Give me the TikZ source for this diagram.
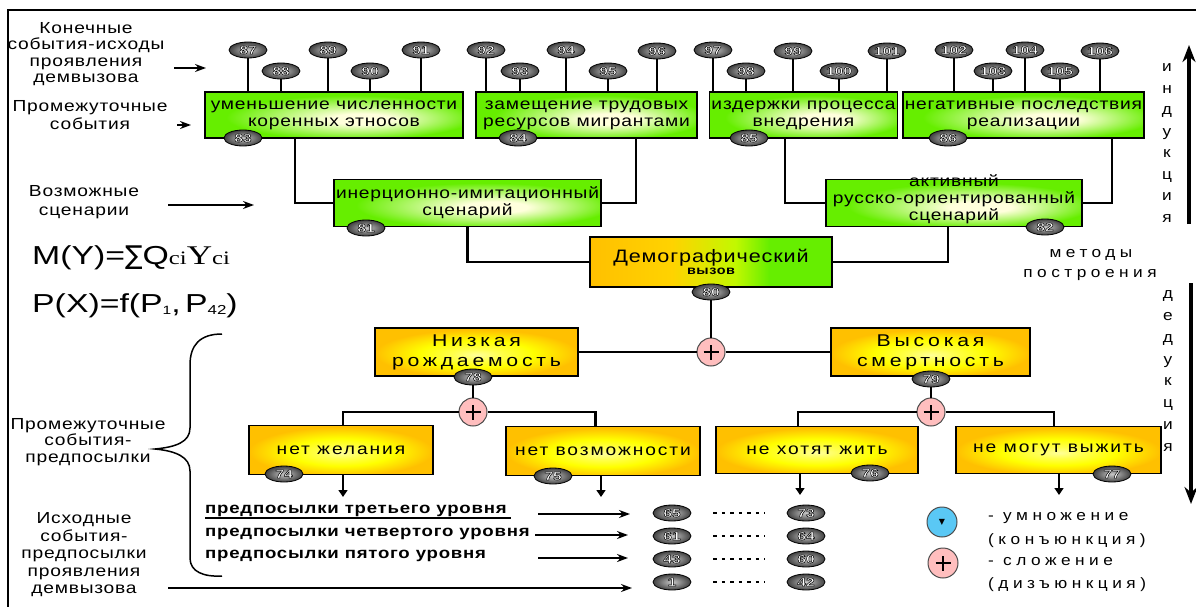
\documentclass[tikz,border=0pt]{standalone}
\usepackage{fontspec}
\setmainfont{Liberation Sans}[FakeStretch=1.2,LetterSpace=5]
\newfontfamily\spacedf{Liberation Sans}[FakeStretch=1.15,LetterSpace=30]
\newfontfamily\midf{Liberation Sans}[FakeStretch=1.2,LetterSpace=12]
\newfontfamily\widef{Liberation Sans}[FakeStretch=1.25,LetterSpace=22]
\newfontfamily\plainf{Liberation Sans}[FakeStretch=1.3]
\newfontfamily\seriff{Liberation Serif}[FakeStretch=1.3]
\newfontfamily\dejavuf{DejaVu Sans}
\usetikzlibrary{shapes.geometric,arrows.meta}
\definecolor{limeg}{RGB}{102,238,0}
\definecolor{goldc}{RGB}{255,192,0}
\definecolor{lighty}{RGB}{255,255,220}
\definecolor{pinkc}{RGB}{255,190,190}
\definecolor{bluec}{RGB}{90,200,245}
\pgfdeclareradialshading{greenbox}{\pgfpoint{6bp}{-5bp}}{color(0bp)=(lighty); color(6bp)=(lighty); color(15bp)=(limeg!50!lighty); color(24bp)=(limeg); color(50bp)=(limeg)}
\pgfdeclareradialshading{yellowbox}{\pgfpoint{0bp}{-3bp}}{color(0bp)=(white!60!yellow); color(6bp)=(white!30!yellow); color(14bp)=(yellow); color(25bp)=(goldc); color(50bp)=(goldc)}
\pgfdeclarehorizontalshading{demoshade}{100bp}{color(0bp)=(goldc); color(25bp)=(goldc); color(42bp)=(goldc!70!yellow); color(55bp)=(yellow!60!limeg); color(62bp)=(limeg); color(100bp)=(limeg)}
\newcommand{\outl}{\special{pdf:literal direct 2 Tr 0.5 w 0 G}}
\begin{document}
\begin{tikzpicture}[x=1pt,y=-1pt,
  gbox/.style={draw=black, line width=1.8pt, shade, shading=greenbox, minimum height=46, align=center, inner sep=2pt, font=\fontsize{16}{17}\selectfont},
  ybox/.style={draw=black, line width=1.8pt, shade, shading=yellowbox, minimum height=48, align=center, inner sep=2pt, font=\midf\fontsize{16}{20}\selectfont},
  badge/.style={ellipse, draw=black, line width=0.8pt, inner color=black!22, outer color=black!75, minimum width=38, minimum height=16, inner sep=0pt, text=white, font=\plainf\bfseries\fontsize{12}{12}\selectfont},
  conn/.style={line width=1.6pt},
  thk/.style={line width=2.6pt},
  thn/.style={line width=1.2pt},
  plusc/.style={circle, draw=black!70, line width=1pt, fill=pinkc, minimum size=28, inner sep=0pt,
    path picture={\draw[line width=2.6pt,black] ([xshift=-7.5pt]path picture bounding box.center) -- ([xshift=7.5pt]path picture bounding box.center) ([yshift=-7.5pt]path picture bounding box.center) -- ([yshift=7.5pt]path picture bounding box.center);}},
  arr/.style={line width=1.4pt, -{Stealth[length=11pt,width=8pt]}},
  darr/.style={line width=1.4pt, -{Triangle[length=7pt,width=9pt]}},
  bigarr/.style={line width=3.2pt, -{Stealth[length=17pt,width=13pt]}},
  lbl/.style={align=center, font=\fontsize{16}{16.5}\selectfont, inner sep=0pt},
  spl/.style={align=center, font=\spacedf\fontsize{15}{21.5}\selectfont, inner sep=0pt},
  rowt/.style={anchor=west, inner sep=0pt, font=\bfseries\fontsize{15.5}{15.5}\selectfont},
  dotl/.style={line width=1.5pt, dash pattern=on 3.5pt off 5pt, shorten <=22pt, shorten >=22pt}
]
\useasboundingbox (0,0) rectangle (1196,607);
\draw[line width=1.3pt] (8,607) -- (8,10) -- (1196,10);

% ---------- top boxes ----------
\node[gbox, minimum width=258] (box83) at (334,115) {уменьшение численности\\коренных этносов};
\node[gbox, minimum width=221] (box84) at (586.5,115) {замещение трудовых\\ресурсов мигрантами};
\node[gbox, minimum width=187] (box85) at (803.5,115) {издержки процесса\\внедрения};
\node[gbox, minimum width=233] (box86) at (1023.5,115) {негативные последствия\\реализации};
\node[gbox, minimum width=266, minimum height=47] (box81) at (467.5,203) {инерционно-имитационный\\сценарий};
\node[gbox, minimum width=256, minimum height=47] (box82) at (954,203) {};
\node[align=center, inner sep=0pt, font=\fontsize{16}{17}\selectfont] (t82) at (954,199) {активный\\русско-ориентированный\\сценарий};
\node[draw=black, line width=1.8pt, shade, shading=demoshade, minimum width=242, minimum height=50, align=center, inner sep=2pt] (demo) at (711,262)
  {\fontsize{18}{18}\selectfont Демографический\\[0pt]{\bfseries\fontsize{12}{12}\selectfont вызов}};

% ---------- top badges ----------
\foreach \n/\x/\y/\b in {87/248/50/box83, 88/281/71/box83, 89/328/50/box83, 90/370/71/box83, 91/421/50/box83,
  92/486/50/box84, 93/520/71/box84, 94/566/50/box84, 95/608/71/box84, 96/657/51/box84,
  97/713/50/box85, 98/746/71/box85, 99/793/51/box85, 100/839/71/box85, 101/887/51/box85,
  102/954/50/box86, 103/993/71/box86, 104/1025/50/box86, 105/1060/71/box86, 106/1100/51/box86}{
  \node[badge] (b\n) at (\x,\y) {\outl\n};
  \draw[thn] (b\n) -- (b\n |- \b.north);
}

% ---------- connectors top ----------
\draw[conn] ([xshift=-39]box83.south) |- (box81.west);
\draw[thk] ([xshift=49.5]box84.south) |- (box81.east);
\draw[thk] ([xshift=-18.5]box85.south) |- (box82.west);
\draw[conn] ([xshift=88.5]box86.south) |- (box82.east);
\draw[thk] (box81.south) |- (demo.west);
\draw[conn] ([xshift=-6]box82.south) |- (demo.east);

\node[badge] (b83) at (243,138) {\outl 83};
\node[badge] (b84) at (518,138) {\outl 84};
\node[badge] (b85) at (749,138) {\outl 85};
\node[badge] (b86) at (948,138) {\outl 86};
\node[badge] (b81) at (366,228) {\outl 81};
\node[badge] (b82) at (1045,227) {\outl 82};
\node[badge] (b80) at (711,292) {\outl 80};

% ---------- middle ----------
\node[ybox, minimum width=203, font=\widef\fontsize{17}{20}\selectfont] (low) at (476.5,352) {Низкая\\рождаемость};
\node[ybox, minimum width=199, font=\widef\fontsize{17}{20}\selectfont] (high) at (930.5,352) {Высокая\\смертность};
\node[plusc] (p0) at (711,352) {};
\draw[conn] (b80) -- (p0);
\draw[conn] (low.east) -- (p0);
\draw[conn] (p0) -- (high.west);
\node[badge] (b78) at (473,377) {\outl 78};
\node[badge] (b79) at (931,379) {\outl 79};
\node[plusc] (p78) at (473,412) {};
\node[plusc] (p79) at (931,412) {};
\draw[conn] (b78) -- (p78);
\draw[conn] (b79) -- (p79);

\node[ybox, minimum width=184, minimum height=49] (wish) at (341,450) {нет желания};
\node[ybox, minimum width=194, minimum height=49] (poss) at (603,451) {нет возможности};
\node[ybox, minimum width=202, minimum height=47] (live) at (817,450) {не хотят жить};
\node[ybox, minimum width=205, minimum height=47] (surv) at (1058.5,450) {не могут выжить};

\draw[conn] (p78) -| ([xshift=2]wish.north);
\draw[thk] (p78) -| ([xshift=-7.5]poss.north);
\draw[conn] (p79) -| ([xshift=-19]live.north);
\draw[thk] (p79) -| ([xshift=-4.5]surv.north);

\node[badge] (b74) at (284,474) {\outl 74};
\node[badge] (b75) at (553,476) {\outl 75};
\node[badge] (b76) at (870,473) {\outl 76};
\node[badge] (b77) at (1112,474) {\outl 77};

\coordinate (e1) at (343,497);
\coordinate (e2) at (601,497);
\coordinate (e3) at (800,495);
\coordinate (e4) at (1059,495);
\draw[darr] (wish.south -| e1) -- (e1);
\draw[darr] (poss.south -| e2) -- (e2);
\draw[darr] (live.south -| e3) -- (e3);
\draw[darr] (surv.south -| e4) -- (e4);

% ---------- bottom rows ----------
\node[rowt] (t3) at (205,511) {предпосылки третьего уровня};
\draw[line width=1.3pt] ([yshift=-1]t3.south west) -- ([yshift=-1,xshift=4]t3.south east);
\node[rowt] (t4) at (205,534) {предпосылки четвертого уровня};
\node[rowt] (t5) at (205,556) {предпосылки пятого уровня};

\foreach \a/\b/\y in {65/73/513, 61/64/536, 43/60/559, 1/42/582}{
  \node[badge] (b\a) at (672,\y) {\outl\a};
  \node[badge] (b\b) at (806,\y) {\outl\b};
  \draw[dotl] (b\a) -- (b\b);
}
\coordinate (r1s) at (538,514); \coordinate (r1e) at (630,514);
\coordinate (r2s) at (535,535); \coordinate (r2e) at (628,535);
\coordinate (r3s) at (538,558); \coordinate (r3e) at (628,558);
\coordinate (r4s) at (168,588); \coordinate (r4e) at (632,588);
\draw[arr] (r1s) -- (r1e);
\draw[arr] (r2s) -- (r2e);
\draw[arr, line width=2.4pt] (r3s) -- (r3e);
\draw[arr] (r4s) -- (r4e);

% ---------- legend ----------
\node[circle, draw=black!70, line width=1pt, fill=bluec, minimum size=30, inner sep=0pt, font=\dejavuf\fontsize{8}{8}\selectfont] (lgm) at (942,522) {▼};
\node[plusc, minimum size=30] (lgp) at (943,563) {};
\node[anchor=west, inner sep=0pt, font=\spacedf\fontsize{15}{15}\selectfont] (lt1) at (988,518) {- умножение};
\node[anchor=west, inner sep=0pt, font=\spacedf\fontsize{15}{15}\selectfont] (lt2) at (988,541) {(конъюнкция)};
\node[anchor=west, inner sep=0pt, font=\spacedf\fontsize{15}{15}\selectfont] (lt3) at (988,562) {- сложение};
\node[anchor=west, inner sep=0pt, font=\spacedf\fontsize{15}{15}\selectfont] (lt4) at (988,585) {(дизъюнкция)};

% ---------- left labels ----------
\node[lbl] (l1) at (86,54) {Конечные\\события-исходы\\проявления\\демвызова};
\coordinate (la1s) at (174,68); \coordinate (la1e) at (206,68);
\draw[arr] (la1s) -- (la1e);
\node[lbl, font=\fontsize{16}{18}\selectfont] (l2) at (90,115) {Промежуточные\\события};
\coordinate (la2s) at (177,125); \coordinate (la2e) at (191,125);
\draw[arr] (la2s) -- (la2e);
\node[lbl, font=\fontsize{16}{19}\selectfont] (l3) at (84,202) {Возможные\\сценарии};
\coordinate (la3s) at (168,205); \coordinate (la3e) at (254,205);
\draw[arr] (la3s) -- (la3e);

\node[anchor=west, inner sep=0pt] (f1) at (32,258) {\plainf\fontsize{26}{26}\selectfont M(Y)={\dejavuf\fontsize{26}{26}\selectfont ∑}Q{\seriff\fontsize{19}{19}\selectfont ci}{\seriff\fontsize{27}{27}\selectfont Y}{\seriff\fontsize{19}{19}\selectfont ci}};
\node[anchor=west, inner sep=0pt] (f2) at (32,306) {\plainf\fontsize{26}{26}\selectfont P(X)=f(P\raisebox{-2pt}{\fontsize{12}{12}\selectfont 1},\,P\raisebox{-2pt}{\fontsize{13}{13}\selectfont 42})};

\draw[line width=1.5pt] (222,334) .. controls (200,334) and (190,345) .. (190,365) -- (190,428)
  .. controls (190,442) and (176,447) .. (155,449) .. controls (176,451) and (190,457) .. (190,471)
  -- (190,558) .. controls (190,572) and (204,577) .. (222,576);
\node[lbl] (l4) at (88,442) {Промежуточные\\события-\\предпосылки};
\node[lbl, font=\fontsize{16}{17.5}\selectfont] (l5) at (84,555) {Исходные\\события-\\предпосылки\\проявления\\демвызова};

% ---------- right ----------
\node[spl] (ind) at (1167,143) {и\\н\\д\\у\\к\\ц\\и\\я};
\coordinate (ia1) at (1189,224); \coordinate (ia2) at (1189,45);
\draw[bigarr] (ia1) -- (ia2);
\node[spl] (met) at (1091,255) {методы};
\node[spl] (pos) at (1090,275) {построения};
\node[spl, font=\spacedf\fontsize{15}{21.9}\selectfont] (ded) at (1168,371) {д\\е\\д\\у\\к\\ц\\и\\я};
\coordinate (da1) at (1191,283); \coordinate (da2) at (1191,504);
\draw[bigarr] (da1) -- (da2);
\end{tikzpicture}
\end{document}
